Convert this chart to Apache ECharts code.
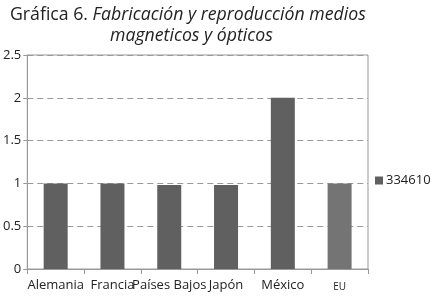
<!DOCTYPE html>
<html><head><meta charset="utf-8">
<script src="https://cdn.jsdelivr.net/npm/echarts@6/dist/echarts.min.js"></script>
<style>html,body{margin:0;padding:0;background:#fff}#c{width:433px;height:296px}</style>
</head><body><div id="c"></div>
<script>
const categories = ['Alemania', 'Francia', 'Países Bajos', 'Japón', 'México', 'EU'];
const values = [1, 1, 0.98, 0.98, 2, 1];
const seriesName = '334610';
const yTicks = [0, 0.5, 1, 1.5, 2, 2.5];
const FONT = '"Open Sans", "Noto Sans", sans-serif';
const chart = echarts.init(document.getElementById('c'));
chart.setOption({
  animation: false,
  backgroundColor: '#fff',
  graphic: [{
    type: 'text', left: 10, top: 4,
    style: {
      text: '{n|Gráfica 6. }{i|Fabricación y reproducción medios}\n{s|}{i|magneticos y ópticos}',
      rich: {
        n: { fontFamily: FONT, fontSize: 17.7, fill: '#222' },
        i: { fontFamily: FONT, fontSize: 17.7, fontStyle: 'italic', fill: '#222' },
        s: { width: 100 }
      },
      lineHeight: 21
    }
  }],
  legend: {
    orient: 'vertical', left: 370, top: 169,
    itemWidth: 8, itemHeight: 8, itemGap: 4,
    icon: 'rect',
    textStyle: { fontFamily: FONT, fontSize: 13, color: '#222', padding: [0, 0, 0, -2] },
    data: [seriesName]
  },
  grid: { left: 25, right: 65, top: 55, bottom: 27, show: true, borderColor: '#999', borderWidth: 1 },
  xAxis: {
    type: 'category', data: categories,
    axisLine: { lineStyle: { color: '#999' } },
    axisTick: { show: true, length: 5, lineStyle: { color: '#999' }, alignWithLabel: false },
    axisLabel: {
      interval: 0, margin: 10, fontFamily: FONT, fontSize: 13, color: '#222',
      formatter: v => v === 'EU' ? '{s|EU}' : v,
      rich: { s: { fontSize: 10, fontFamily: FONT, color: '#222', padding: [3, 0, 0, 0] } }
    }
  },
  yAxis: {
    type: 'value', min: 0, max: 2.5, interval: 0.5,
    axisLine: { show: true, lineStyle: { color: '#999' } },
    axisTick: { show: true, length: 4, lineStyle: { color: '#999' } },
    axisLabel: { fontFamily: FONT, fontSize: 13, color: '#222', margin: 6,
      formatter: v => yTicks.includes(v) ? String(v) : '' },
    splitLine: { lineStyle: { color: '#999', type: [6, 4] } }
  },
  series: [{
    name: seriesName, type: 'bar', barWidth: 24,
    itemStyle: { color: '#606060' },
    data: values.map((v, i) => i === values.length - 1 ? { value: v, itemStyle: { color: '#747474' } } : v)
  }]
});
</script></body></html>
